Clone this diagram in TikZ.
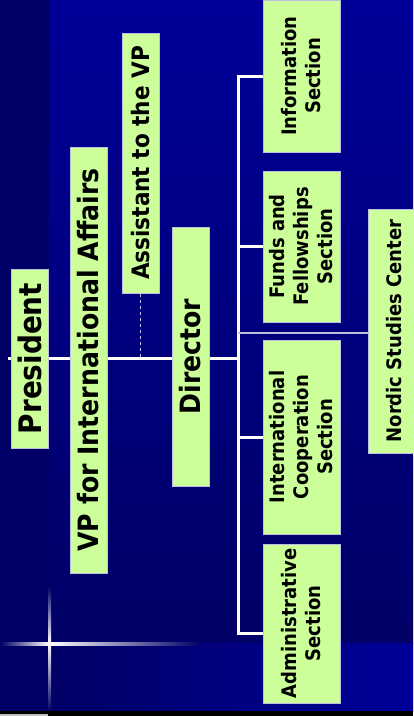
\documentclass[tikz,border=0pt]{standalone}
\usepackage{fontspec}
\setmainfont{DejaVu Sans}[FakeStretch=0.9]
\pgfdeclarelayer{bg}
\pgfdeclarelayer{wires}
\pgfsetlayers{bg,wires,main}
\definecolor{boxgreen}{RGB}{204,255,153}
\definecolor{deepnavy}{RGB}{0,0,102}
\definecolor{royal}{RGB}{0,0,153}
\definecolor{boxedge}{RGB}{190,190,225}
\definecolor{glow}{RGB}{0,102,255}
\begin{document}
\begin{tikzpicture}[x=1pt,y=-1pt,
    box/.style={rotate=90,draw=boxedge,line width=1pt,fill=boxgreen,inner sep=0pt,align=center},
    secbox/.style={box,minimum height=77pt,font=\bfseries\fontsize{20}{24}\selectfont},
    wire/.style={white,line width=3pt}]
      \useasboundingbox (0,0) rectangle (413,716);

      \node[box,minimum width=179pt,minimum height=37pt,font=\bfseries\fontsize{31}{36}\selectfont] (pres) at (29.5,358.5) {President};
      \node[box,minimum width=426pt,minimum height=37pt,font=\bfseries\fontsize{28}{32}\selectfont] (vp) at (88.5,360) {VP for International Affairs};
      \node[box,minimum width=260pt,minimum height=37pt,font=\bfseries\fontsize{24}{28}\selectfont] (assist) at (140.5,163) {Assistant to the VP};
      \node[box,minimum width=259pt,minimum height=37pt,font=\bfseries\fontsize{28}{32}\selectfont] (dir) at (190.5,356.5) {Director};

      \node[secbox,minimum width=152pt] (info) at (301.5,76) {Information\\Section};
      \node[secbox,minimum width=151pt] (funds) at (301.5,246.5) {Funds and\\Fellowships\\Section};
      \node[secbox,minimum width=194pt] (coop) at (301.5,437) {International\\Cooperation\\Section};
      \node[secbox,minimum width=159pt] (admin) at (301.5,623.5) {Administrative\\Section};
      \node[box,minimum width=244pt,minimum height=52pt,font=\bfseries\fontsize{20}{24}\selectfont] (nordic) at (394,331) {Nordic Studies Center};

      \coordinate (start) at (8,358);
      \coordinate (bus) at (238,358);
      \coordinate (admtap) at ([yshift=-9.5pt]admin.north);
      \coordinate (nordtap) at ([yshift=-2pt]nordic.north);

    \begin{pgfonlayer}{bg}
      \fill[deepnavy] (0,0) rectangle (413,716);
      \shade[top color=royal,bottom color=deepnavy] (49,0) rectangle (413,643);
      \shade[left color=deepnavy,right color=royal] (49,643) rectangle (413,711);
      % the little star
      \shade[top color=deepnavy,middle color=glow,bottom color=white] (48,586) rectangle (51,643);
      \shade[top color=white,middle color=glow,bottom color=deepnavy] (48,643) rectangle (51,711);
      \shade[left color=deepnavy,middle color=glow,right color=white] (0,642) rectangle (49,645);
      \shade[left color=white,middle color=glow,right color=deepnavy] (49,642) rectangle (200,645);
      \fill[black] (0,711) rectangle (413,716);
      \fill[lightgray] (0,714) rectangle (48,716);
    \end{pgfonlayer}

    \begin{pgfonlayer}{wires}
      \draw[wire] (start) -- (bus);
      \draw[wire] (info.north) -- (bus |- info.north) -- (bus |- admtap) -- (admtap);
      \foreach \sec in {funds,coop}{
         \draw[wire] (\sec.north) -- (bus |- \sec.north);
      }
      \draw[boxedge,line width=2pt] (bus |- nordtap) -- (nordtap);
      \draw[boxedge,line width=1pt,dash pattern=on 3pt off 3pt] (assist.west) -- (assist.west |- start);
    \end{pgfonlayer}
\end{tikzpicture}
\end{document}
